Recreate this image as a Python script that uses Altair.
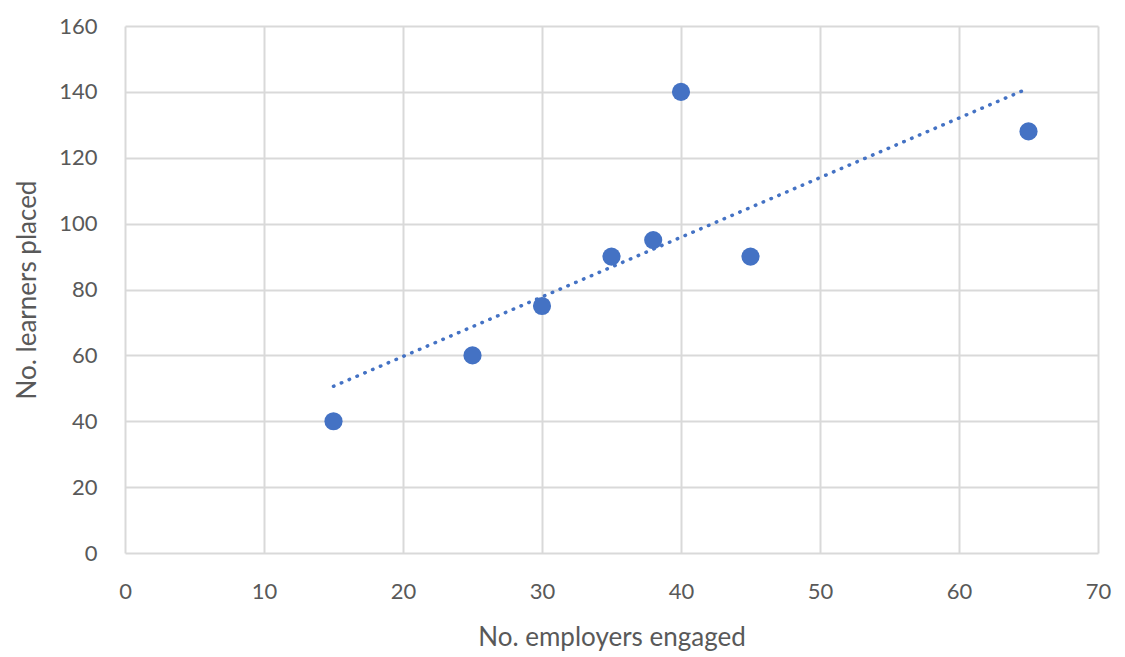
import altair as alt
import pandas as pd

employers = [15, 25, 30, 35, 38, 40, 45, 65]
learners = [40, 60, 75, 90, 95, 140, 90, 128]
x_ticks = [0, 10, 20, 30, 40, 50, 60, 70]
y_ticks = [0, 20, 40, 60, 80, 100, 120, 140, 160]

df = pd.DataFrame({"employers": employers, "learners": learners})

FONT = "Lato"
GRAY = "#595959"
BLUE = "#4472C4"

x = alt.X("employers:Q", title="No. employers engaged",
          scale=alt.Scale(domain=[0, 70], nice=False),
          axis=alt.Axis(values=x_ticks, labelFlush=False, labelOverlap=False))
y = alt.Y("learners:Q", title="No. learners placed",
          scale=alt.Scale(domain=[0, 160], nice=False),
          axis=alt.Axis(values=y_ticks, labelOverlap=False))

base = alt.Chart(df)

trend = base.transform_regression("employers", "learners", method="linear").mark_line(
    color=BLUE, strokeWidth=3.5, strokeDash=[0.5, 8], strokeCap="round"
).encode(x=x, y=y)

points = base.mark_circle(color=BLUE, opacity=1, size=330).encode(x=x, y=y)

chart = alt.layer(trend, points).properties(
    width=973, height=527,
    autosize=alt.AutoSizeParams(type="none"),
    padding={"left": 117, "top": 18, "right": 18, "bottom": 102},
).configure_view(stroke=None).configure_axis(
    grid=True, gridColor="#d9d9d9", gridWidth=2,
    domain=False, ticks=False,
    labelFont=FONT, labelFontSize=22, labelColor=GRAY,
    titleFont=FONT, titleFontSize=26, titleColor=GRAY, titleFontWeight="normal",
).configure_axisX(labelPadding=28, titlePadding=22).configure_axisY(
    labelPadding=28, titlePadding=18
)

chart.save("out.html", embed_options={"renderer": "svg", "actions": False})
